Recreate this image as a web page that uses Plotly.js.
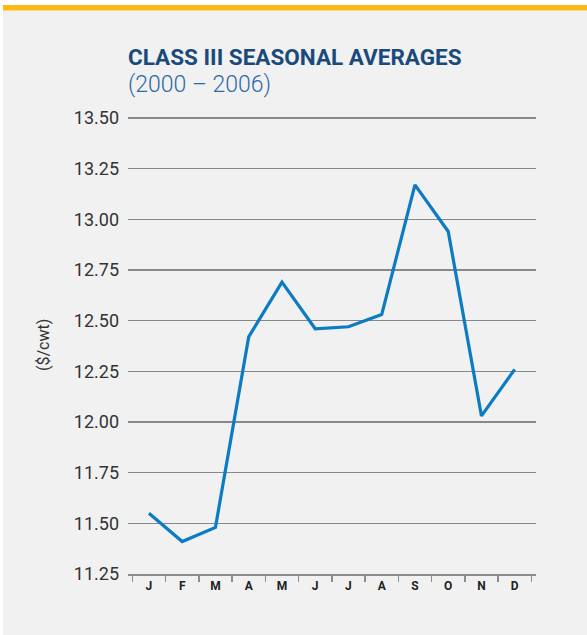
<!DOCTYPE html>
<html>
<head>
<meta charset="utf-8">
<script src="https://cdn.plot.ly/plotly-3.0.1.min.js"></script>
<style>html,body{margin:0;padding:0;background:#fff;}#chart{width:587px;height:635px;}</style>
</head>
<body>
<div id="chart"></div>
<script>
const months = ["J","F","M","A","M","J","J","A","S","O","N","D"];
const monthIds = ["Jan","Feb","Mar","Apr","May","Jun","Jul","Aug","Sep","Oct","Nov","Dec"];
const classIIIAvg = [11.55, 11.41, 11.48, 12.42, 12.69, 12.46, 12.47, 12.53, 13.17, 12.94, 12.03, 12.26];
const yTicks = [11.25, 11.50, 11.75, 12.00, 12.25, 12.50, 12.75, 13.00, 13.25, 13.50];
const titleText = "CLASS III SEASONAL AVERAGES";
const subtitleText = "(2000 – 2006)";
const yTitleText = "($/cwt)";

const W = 587, H = 635, L = 128, R = 51, T = 117, B = 61;
const pw = W - L - R, ph = H - T - B;
const px = x => (x - L) / pw;
const py = y => (H - B - y) / ph;

const trace = {
  x: monthIds,
  y: classIIIAvg,
  type: "scatter",
  mode: "lines",
  line: {color: "#0b7bc3", width: 3.2},
  hoverinfo: "skip"
};

const layout = {
  width: W, height: H,
  margin: {l: L, r: R, t: T, b: B},
  paper_bgcolor: "#f1f1f1",
  plot_bgcolor: "rgba(0,0,0,0)",
  showlegend: false,
  xaxis: {
    type: "category",
    tickvals: monthIds,
    ticktext: months,
    range: [-0.63, 11.64],
    tickson: "boundaries",
    ticks: "outside",
    ticklen: 6,
    tickwidth: 1.5,
    tickcolor: "#8c8c8c",
    showgrid: false,
    showline: true,
    linecolor: "#8c8c8c",
    linewidth: 2,
    zeroline: false,
    tickfont: {family: "Roboto, Arial, sans-serif", size: 12, color: "#222", weight: "bold"}
  },
  yaxis: {
    range: [11.25, 13.505],
    tickvals: yTicks,
    ticktext: yTicks.map(v => v.toFixed(2)),
    showgrid: true,
    gridcolor: "#888888",
    gridwidth: 1.2,
    zeroline: false,
    showline: false,
    ticks: "",
    ticklabelstandoff: 8,
    tickfont: {family: "Roboto, Arial, sans-serif", size: 18, color: "#333"}
  },
  shapes: [
    {type: "rect", xref: "paper", yref: "paper", x0: px(0), x1: px(W), y0: py(0), y1: py(5), fillcolor: "#ffffff", line: {width: 0}, layer: "below"},
    {type: "rect", xref: "paper", yref: "paper", x0: px(0), x1: px(3), y0: py(0), y1: py(H), fillcolor: "#ffffff", line: {width: 0}, layer: "below"},
    {type: "rect", xref: "paper", yref: "paper", x0: px(3), x1: px(W), y0: py(5), y1: py(10.5), fillcolor: "#fdb913", line: {width: 0}, layer: "below"}
  ],
  annotations: [
    {text: "<b>" + titleText + "</b>", xref: "paper", yref: "paper", x: px(126), y: py(57), xanchor: "left", yanchor: "middle", showarrow: false,
     font: {family: "Roboto, Arial, sans-serif", size: 22.5, color: "#1a4a7c"}},
    {text: subtitleText, xref: "paper", yref: "paper", x: px(126), y: py(84), xanchor: "left", yanchor: "middle", showarrow: false,
     font: {family: "Roboto, Arial, sans-serif", size: 23, color: "#2c6aa3", weight: 300}},
    {text: yTitleText, xref: "paper", yref: "paper", x: px(43), y: py(345), xanchor: "center", yanchor: "middle", textangle: -90, showarrow: false,
     font: {family: "Roboto, Arial, sans-serif", size: 16, color: "#333"}}
  ]
};

Plotly.newPlot("chart", [trace], layout, {displayModeBar: false, staticPlot: true});
</script>
</body>
</html>
